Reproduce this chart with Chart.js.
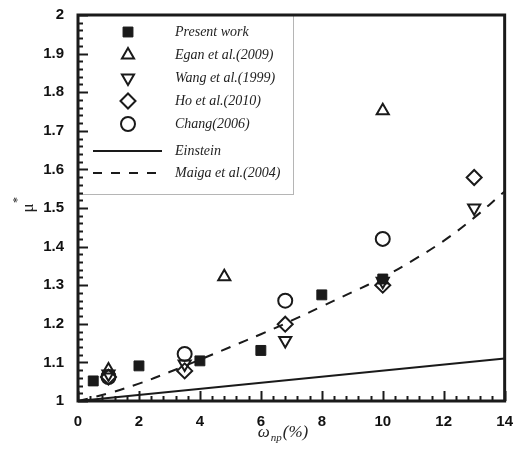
<!DOCTYPE html>
<html>
<head>
  <title>Relative viscosity</title>
  <script src="https://cdn.jsdelivr.net/npm/chart.js"></script>
  <style>
    body { margin: 0; background: #fff; }
  </style>
</head>
<body>
  <canvas id="myChart" width="517" height="450"></canvas>

  <script>
// Data
const presentX = [0.5, 2, 4, 6, 8, 10];
const presentY = [1.052, 1.091, 1.104, 1.131, 1.275, 1.316];

const eganX = [1, 4.8, 10];
const eganY = [1.08, 1.322, 1.752];

const wangX = [1, 3.5, 6.8, 10, 13];
const wangY = [1.07, 1.096, 1.157, 1.31, 1.5];

const hoX = [1, 3.5, 6.8, 10, 13];
const hoY = [1.062, 1.078, 1.199, 1.3, 1.579];

const changX = [1, 3.5, 6.8, 10];
const changY = [1.062, 1.122, 1.26, 1.42];

const einsteinX = [0, 14];
const einsteinY = [1, 1.11];

const maigaX = [0, 1, 2, 3, 4, 5, 6, 7, 8, 9, 10, 11, 12, 13, 14];
const maigaY = [1.0, 1.02, 1.045, 1.075, 1.107, 1.14, 1.173, 1.208, 1.245, 1.282, 1.32, 1.365, 1.415, 1.475, 1.543];

const xTicks = [0, 2, 4, 6, 8, 10, 12, 14];
const yTicks = [1, 1.1, 1.2, 1.3, 1.4, 1.5, 1.6, 1.7, 1.8, 1.9, 2];

const ink = '#1a1a1a';

function points(xs, ys) {
  return xs.map((x, i) => ({ x: x, y: ys[i] }));
}

function markerSet(label, xs, ys, style, radius, filled, rotation) {
  return {
    label: label,
    data: points(xs, ys),
    showLine: false,
    pointStyle: style,
    pointRadius: radius,
    pointRotation: rotation || 0,
    pointBorderWidth: filled ? 1 : 2,
    pointBackgroundColor: filled ? ink : 'rgba(0,0,0,0)',
    pointBorderColor: ink
  };
}

const datasets = [
  markerSet('Present work', presentX, presentY, 'rect', 7, true),
  markerSet('Egan et al.(2009)', eganX, eganY, 'triangle', 7, false),
  markerSet('Wang et al.(1999)', wangX, wangY, 'triangle', 7, false, 180),
  markerSet('Ho et al.(2010)', hoX, hoY, 'rectRot', 7.5, false),
  markerSet('Chang(2006)', changX, changY, 'circle', 7, false),
  {
    label: 'Einstein',
    data: points(einsteinX, einsteinY),
    showLine: true,
    pointRadius: 0,
    borderColor: ink,
    borderWidth: 2
  },
  {
    label: 'Maiga et al.(2004)',
    data: points(maigaX, maigaY),
    showLine: true,
    pointRadius: 0,
    borderColor: ink,
    borderWidth: 2,
    borderDash: [10, 9],
    tension: 0.4
  }
];

// legend box, inward ticks, frame and axis titles
const decorations = {
  id: 'decorations',
  afterDatasetsDraw(chart) {
    const ctx = chart.ctx;
    const area = chart.chartArea;
    const rows = [32, 55, 78, 101, 124, 151, 173];
    ctx.save();
    ctx.fillStyle = '#fff';
    ctx.fillRect(area.left, area.top, 215, 179);
    ctx.strokeStyle = '#b5b5b5';
    ctx.lineWidth = 1;
    ctx.strokeRect(area.left + 0.5, area.top + 0.5, 215, 179);

    chart.data.datasets.forEach((d, i) => {
      const y = rows[i];
      ctx.fillStyle = d.pointBackgroundColor || ink;
      ctx.strokeStyle = ink;
      if (d.showLine) {
        ctx.lineWidth = 2;
        ctx.setLineDash(d.borderDash ? [9, 9] : []);
        ctx.beginPath();
        ctx.moveTo(93, y);
        ctx.lineTo(162, y);
        ctx.stroke();
        ctx.setLineDash([]);
      } else {
        ctx.lineWidth = d.pointBorderWidth;
        Chart.helpers.drawPoint(ctx, {
          pointStyle: d.pointStyle,
          radius: d.pointRadius,
          rotation: d.pointRotation,
          borderWidth: d.pointBorderWidth
        }, 128, y);
      }
      ctx.fillStyle = '#222';
      ctx.font = 'italic 14px "Liberation Serif"';
      ctx.textAlign = 'left';
      ctx.textBaseline = 'middle';
      ctx.fillText(d.label, 175, y);
    });
    ctx.restore();
  },
  afterDraw(chart) {
    const ctx = chart.ctx;
    const area = chart.chartArea;
    const xs = chart.scales.x;
    const ys = chart.scales.y;
    ctx.save();
    ctx.strokeStyle = ink;
    ctx.lineWidth = 2;

    // x ticks every 0.4, major every 2
    for (let k = 0; k <= 35; k++) {
      const px = Math.round(xs.getPixelForValue(k * 0.4)) + 0.5;
      const len = (k % 5 === 0) ? 10 : 5;
      ctx.beginPath();
      ctx.moveTo(px, area.bottom);
      ctx.lineTo(px, area.bottom - len);
      ctx.stroke();
    }
    // y ticks every 0.02, major every 0.1
    for (let k = 0; k <= 50; k++) {
      const py = Math.round(ys.getPixelForValue(1 + k * 0.02)) + 0.5;
      const len = (k % 5 === 0) ? 10 : 5;
      ctx.beginPath();
      ctx.moveTo(area.left, py);
      ctx.lineTo(area.left + len, py);
      ctx.stroke();
    }

    ctx.lineWidth = 3;
    ctx.strokeRect(area.left, area.top, area.right - area.left, area.bottom - area.top);

    // x title: omega_np(%)
    ctx.fillStyle = '#222';
    ctx.textBaseline = 'alphabetic';
    ctx.textAlign = 'left';
    const big = 'italic 17px "Liberation Serif"';
    const small = 'italic 11px "Liberation Serif"';
    ctx.font = big;
    const w1 = ctx.measureText('\u03c9').width;
    const w3 = ctx.measureText('(%)').width;
    ctx.font = small;
    const w2 = ctx.measureText('np').width;
    let x0 = 283 - (w1 + w2 + w3 + 2) / 2;
    const base = 437;
    ctx.font = big;
    ctx.fillText('\u03c9', x0, base);
    ctx.font = small;
    ctx.fillText('np', x0 + w1 + 1, base + 4);
    ctx.font = big;
    ctx.fillText('(%)', x0 + w1 + w2 + 2, base);

    // y title: mu*
    ctx.translate(33, (area.top + area.bottom) / 2);
    ctx.rotate(-Math.PI / 2);
    ctx.font = '17px "Liberation Serif"';
    ctx.textAlign = 'center';
    ctx.fillText('\u03bc', 0, 0);
    ctx.font = '12px "Liberation Serif"';
    ctx.fillText('*', 8, -12);
    ctx.restore();
  }
};

const ctx = document.getElementById('myChart');

const chart = new Chart(ctx, {
  type: 'scatter',
  data: { datasets: datasets },
  plugins: [decorations],
  options: {
    responsive: false,
    animation: false,
    layout: { padding: { top: 8, right: 9, left: 0, bottom: 0 } },
    plugins: {
      legend: { display: false },
      tooltip: { enabled: false }
    },
    scales: {
      x: {
        type: 'linear',
        min: 0,
        max: 14,
        afterBuildTicks: s => { s.ticks = xTicks.map(v => ({ value: v })); },
        afterFit: s => { s.height = 49; },
        grid: { display: false },
        border: { display: false },
        ticks: {
          color: '#111',
          padding: 4,
          maxRotation: 0,
          font: { family: '"Liberation Sans", Arial', size: 15, weight: 'bold' }
        }
      },
      y: {
        type: 'linear',
        min: 1,
        max: 2,
        afterBuildTicks: s => { s.ticks = yTicks.map(v => ({ value: v })); },
        afterFit: s => { s.width = 78; },
        grid: { display: false },
        border: { display: false },
        ticks: {
          color: '#111',
          padding: 6,
          callback: v => String(Number(v.toFixed(1))),
          font: { family: '"Liberation Sans", Arial', size: 15, weight: 'bold' }
        }
      }
    }
  }
});
  </script>
</body>
</html>
